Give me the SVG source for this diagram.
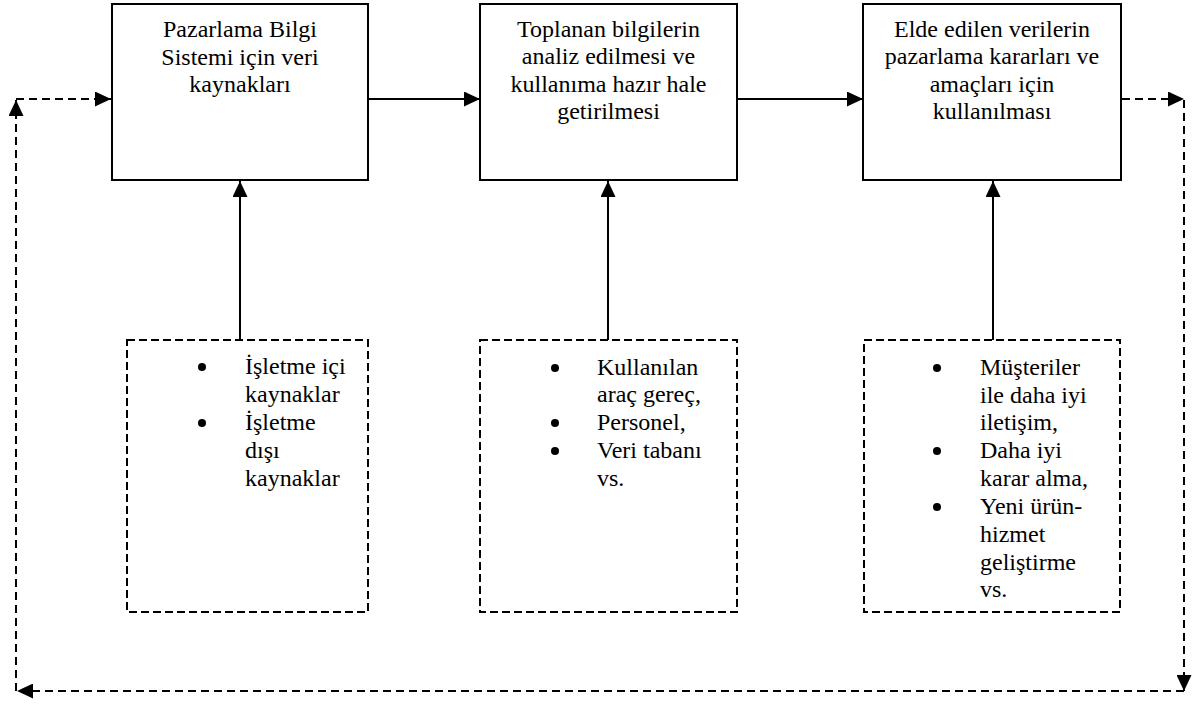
<svg xmlns="http://www.w3.org/2000/svg" width="1192" height="704" viewBox="0 0 1192 704">
<style>
.box{fill:#fff;stroke:#000;stroke-width:2}
.dbox{fill:#fff;stroke:#000;stroke-width:2;stroke-dasharray:8 4}
text{font-family:'Liberation Serif','Times New Roman',Times,'DejaVu Serif',serif;font-size:24px;fill:#000}
.c{text-anchor:middle}
.ln{stroke:#000;stroke-width:2;fill:none;marker-end:url(#ah)}
.dl{stroke:#000;stroke-width:2;fill:none;stroke-dasharray:8 5;marker-end:url(#ah)}
</style>
<defs>
<marker id="ah" markerUnits="userSpaceOnUse" markerWidth="16" markerHeight="15" refX="16" refY="7.5" orient="auto">
<path d="M0,0 L16,7.5 L0,15 z" fill="#000"/>
</marker>
</defs>
<rect width="1192" height="704" fill="#fff"/>
<g id="connectors">
<line class="ln" x1="368" y1="99" x2="480" y2="99"/>
<line class="ln" x1="737" y1="99" x2="863" y2="99"/>
<line class="ln" x1="240" y1="340" x2="240" y2="181"/>
<line class="ln" x1="608" y1="340" x2="608" y2="181"/>
<line class="ln" x1="993" y1="340" x2="993" y2="181"/>
<line class="dl" x1="1122" y1="99" x2="1184" y2="99"/>
<line class="dl" x1="1184" y1="100" x2="1184" y2="691"/>
<line class="dl" x1="1184" y1="691" x2="17" y2="691"/>
<line class="dl" x1="16" y1="691" x2="16" y2="100"/>
<line class="dl" x1="16" y1="99" x2="111" y2="99"/>
</g>
<g id="node1" font-family="Liberation Serif, serif">
<rect class="box" x="112" y="4" width="256" height="176"/>
<text class="c" x="240" y="37">Pazarlama Bilgi</text>
<text class="c" x="240" y="65">Sistemi için veri</text>
<text class="c" x="240" y="92">kaynakları</text>
</g>
<g id="node2">
<rect class="box" x="480" y="4" width="257" height="176"/>
<text class="c" x="608.5" y="37">Toplanan bilgilerin</text>
<text class="c" x="608.5" y="64">analiz edilmesi ve</text>
<text class="c" x="608.5" y="92">kullanıma hazır hale</text>
<text class="c" x="608.5" y="119">getirilmesi</text>
</g>
<g id="node3">
<rect class="box" x="863" y="4" width="258" height="176"/>
<text class="c" x="992" y="37">Elde edilen verilerin</text>
<text class="c" x="992" y="64">pazarlama kararları ve</text>
<text class="c" x="992" y="92">amaçları için</text>
<text class="c" x="992" y="119">kullanılması</text>
</g>
<g id="sourceA">
<rect class="dbox" x="127" y="340" width="241" height="272"/>
<circle cx="202" cy="367" r="4"/>
<circle cx="202" cy="423" r="4"/>
<text x="245" y="374">İşletme içi</text>
<text x="245" y="402">kaynaklar</text>
<text x="245" y="430">İşletme</text>
<text x="245" y="458">dışı</text>
<text x="245" y="486">kaynaklar</text>
</g>
<g id="sourceB">
<rect class="dbox" x="480" y="340" width="257" height="272"/>
<circle cx="555" cy="368" r="4"/>
<circle cx="555" cy="423" r="4"/>
<circle cx="555" cy="451" r="4"/>
<text x="597" y="375">Kullanılan</text>
<text x="597" y="402">araç gereç,</text>
<text x="597" y="430">Personel,</text>
<text x="597" y="458">Veri tabanı</text>
<text x="597" y="486">vs.</text>
</g>
<g id="sourceC">
<rect class="dbox" x="864" y="340" width="256" height="272"/>
<circle cx="937" cy="368" r="4"/>
<circle cx="937" cy="451" r="4"/>
<circle cx="937" cy="507" r="4"/>
<text x="980" y="375">Müşteriler</text>
<text x="980" y="403">ile daha iyi</text>
<text x="980" y="430">iletişim,</text>
<text x="980" y="458">Daha iyi</text>
<text x="980" y="486">karar alma,</text>
<text x="980" y="514">Yeni ürün-</text>
<text x="980" y="542">hizmet</text>
<text x="980" y="570">geliştirme</text>
<text x="980" y="597">vs.</text>
</g>
</svg>
